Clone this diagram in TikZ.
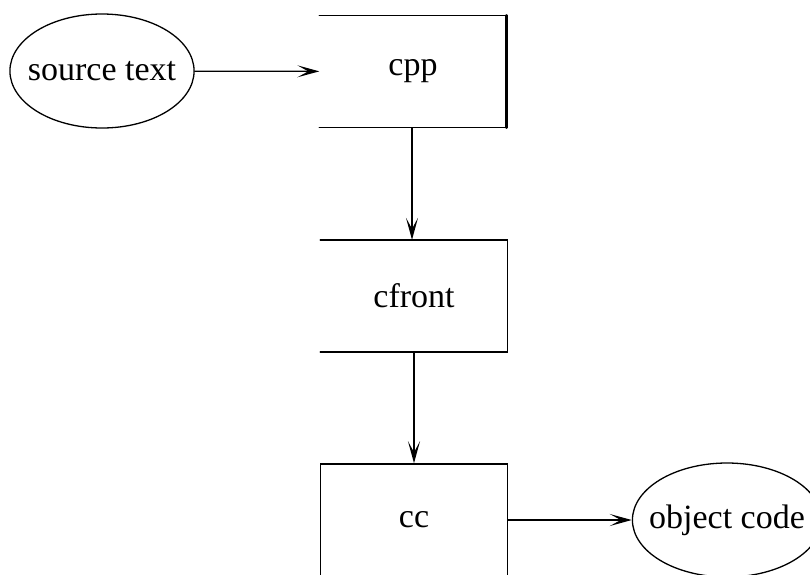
\documentclass[tikz,border=0pt]{standalone}
\usepackage{fontspec}
\setmainfont{Liberation Serif}
\usetikzlibrary{shapes.geometric,arrows.meta}

\begin{document}
\begin{tikzpicture}
		[x=1pt,y=-1pt,line cap=round,
		%Styles
		stage box/.style={rectangle,minimum width=187pt,minimum height=112pt,inner sep=0pt,font=\fontsize{34}{40}\selectfont},
		data node/.style={ellipse,draw,line width=1.3pt,inner ysep=0pt,minimum height=114pt,font=\fontsize{34}{40}\selectfont},
		flow/.style={line width=1.3pt,-{Stealth[length=22pt,width=12pt,inset=11pt]}},
		box line/.style={line width=1.5pt}
		]
		\useasboundingbox (0,0) rectangle (810,574);
		
		%The graphic
		\node[data node,inner xsep=-9pt] (src) at (102,71) {source text};
		\node[stage box] (cpp) at (413,71.5) {cpp};
		\node[stage box] (cfront) at (414,296) {cfront};
		\node[stage box,draw,line width=1.5pt] (cc) at (414,520) {cc};
		\node[data node,inner xsep=-11pt] (obj) at (727,520) {object code};
		
		%open boxes
		\draw[box line] (cpp.south west) -- (cpp.south east) -- (cpp.north east) -- (cpp.north west);
		\draw[line width=2.5pt] (cpp.south east) -- (cpp.north east);
		\draw[box line] (cfront.south west) -- (cfront.south east) -- (cfront.north east) -- (cfront.north west);
		
		\path 	(src)		edge [flow] (cpp)
				(cpp.south -| 412,0)	edge [flow] (cfront.north -| 412,0)
				(cfront)	edge [flow,line width=2.2pt] (cc)
				(cc)		edge [flow] (obj);
	\end{tikzpicture}
\end{document}
